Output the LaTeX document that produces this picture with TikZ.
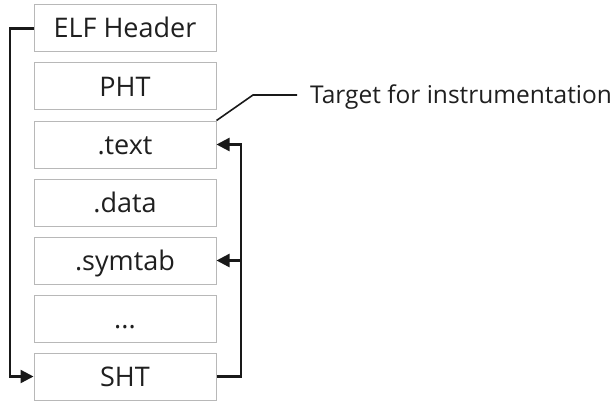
\documentclass[tikz,border=0pt]{standalone}
\usepackage{fontspec}
\setmainfont{Open Sans}
\usetikzlibrary{arrows.meta}
\begin{document}
\begin{tikzpicture}[x=1pt,y=-1pt,
  secbox/.style={draw=black!28, line width=1pt, minimum width=182pt, minimum height=47pt,
    inner sep=0pt, text height=22pt, text depth=3pt, font=\fontsize{27}{30}\selectfont, text=black!88},
  conn/.style={line width=2.4pt, black!90},
  arr/.style={conn, -{Triangle[length=13pt,width=13pt]}}]
\useasboundingbox (0,0) rectangle (615,401);
\node[secbox] (elf) at (125,28.5) {ELF Header};
\node[secbox] (pht) at (125,86.5) {PHT};
\node[secbox] (text) at (125,144.5) {.text};
\node[secbox] (data) at (125,202.5) {.data};
\node[secbox] (symtab) at (125,260.5) {.symtab};
\node[secbox] (dots) at (125,318.5) {...};
\node[secbox] (sht) at (125,376.5) {SHT};
\node[anchor=base west, inner sep=0pt, font=\fontsize{24.5}{27}\selectfont, text=black!88] (lbl) at (310,104) {Target for instrumentation};
\coordinate (bend) at (253,95);
\coordinate (lend) at (297,95);
\coordinate (lx) at (10,0);
\coordinate (rx) at (241,0);
\draw[arr] (elf.west) -- (elf.west -| lx) |- (sht.west);
\draw[arr] (sht.east) -- (sht.east -| rx) |- (text.east);
\draw[arr] (symtab.east -| rx) -- (symtab.east);
\draw[line width=1.6pt, black!90] (text.north east) -- (bend) -- (lend);
\end{tikzpicture}
\end{document}
